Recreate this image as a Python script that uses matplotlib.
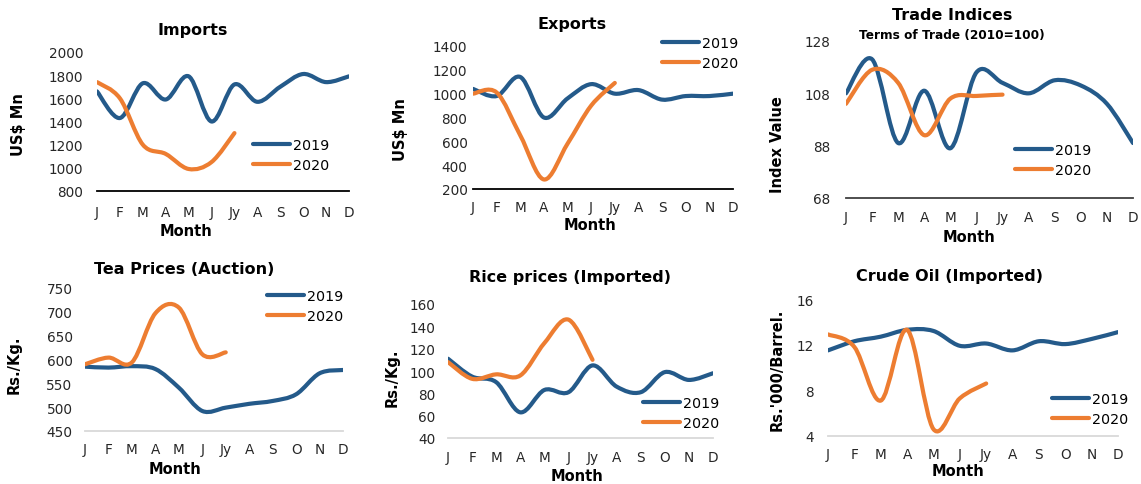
import matplotlib
matplotlib.use("Agg")
import matplotlib.pyplot as plt
from matplotlib.path import Path
from matplotlib.patches import PathPatch
from matplotlib.lines import Line2D

# datos
meses = ["J", "F", "M", "A", "M", "J", "Jy", "A", "S", "O", "N", "D"]
anios = ["2019", "2020"]

imports_2019 = [1660, 1430, 1730, 1590, 1790, 1400, 1720, 1570, 1700, 1810, 1740, 1790]
imports_2020 = [1740, 1600, 1200, 1120, 990, 1050, 1300]

exports_2019 = [1040, 980, 1140, 800, 960, 1080, 1000, 1030, 950, 980, 980, 1000]
exports_2020 = [1000, 1010, 650, 280, 580, 900, 1090]

tot_2019 = [108, 121, 89, 109, 87, 116, 112, 108, 113, 111, 104, 89]
tot_2020 = [104, 117, 112, 92, 106, 107, 107.5]

tea_2019 = [585, 583, 586, 580, 541, 492, 499, 507, 513, 527, 571, 578]
tea_2020 = [590, 604, 594, 697, 709, 611, 615]

rice_2019 = [111, 95, 90, 63, 83, 81, 105, 86, 81, 99, 92, 98]
rice_2020 = [108, 93, 97, 96, 125, 146, 110]

oil_2019 = [11.5, 12.3, 12.7, 13.3, 13.2, 11.9, 12.1, 11.5, 12.3, 12.05, 12.5, 13.1]
oil_2020 = [12.9, 11.8, 7.1, 13.3, 4.6, 7.3, 8.6]

azul = "#245A8A"
naranja = "#ED7D31"
W, H = 1141, 485

plt.rcParams['font.family'] = ['DejaVu Sans']


def curva_suave(ax, ys, color):
    # linea suavizada tipo Excel (bezier catmull-rom)
    xs = list(range(len(ys)))
    pts = list(zip(xs, ys))
    verts = [pts[0]]
    codes = [Path.MOVETO]
    n = len(pts)
    for i in range(n - 1):
        p0 = pts[i - 1] if i > 0 else pts[i]
        p1 = pts[i]
        p2 = pts[i + 1]
        p3 = pts[i + 2] if i + 2 < n else pts[i + 1]
        c1 = (p1[0] + (p2[0] - p0[0]) / 6, p1[1] + (p2[1] - p0[1]) / 6)
        c2 = (p2[0] - (p3[0] - p1[0]) / 6, p2[1] - (p3[1] - p1[1]) / 6)
        verts += [c1, c2, p2]
        codes += [Path.CURVE4] * 3
    patch = PathPatch(Path(verts, codes), fill=False, edgecolor=color, lw=3.0,
                      capstyle='round', joinstyle='round')
    ax.add_patch(patch)


def panel(caja, s19, s20, yticks, titulo, ylabel, textos, color_eje, xpad, ypad, ley):
    x0, x1, ytop, ybot = caja
    ax = fig.add_axes([x0 / W, 1 - ybot / H, (x1 - x0) / W, (ybot - ytop) / H])
    curva_suave(ax, s19, azul)
    curva_suave(ax, s20, naranja)
    ax.set_xlim(0, 11)
    ax.set_ylim(yticks[0], yticks[-1])
    ax.set_yticks(yticks)
    ax.set_xticks(range(12))
    ax.set_xticklabels(meses)
    ax.tick_params(length=0, labelsize=9.8, colors="#262626")
    ax.tick_params(axis='x', pad=xpad)
    ax.tick_params(axis='y', pad=ypad)
    for s in ['top', 'right', 'left']:
        ax.spines[s].set_visible(False)
    ax.spines['bottom'].set_color(color_eje)
    ax.spines['bottom'].set_linewidth(1.3)
    ax.patch.set_alpha(0)
    # titulo, etiquetas
    tx, ty = textos['titulo']
    fig.text(tx / W, 1 - ty / H, titulo, ha='center', va='center', fontsize=11.5, fontweight='bold')
    mx, my = textos['mes']
    fig.text(mx / W, 1 - my / H, "Month", ha='center', va='center', fontsize=10.5, fontweight='bold')
    lx, ly = textos['ylabel']
    fig.text(lx / W, 1 - ly / H, ylabel, ha='center', va='center', rotation=90, fontsize=10.5, fontweight='bold')
    hx, hy = ley
    handles = [Line2D([], [], color=azul, lw=3.0, solid_capstyle='round'),
               Line2D([], [], color=naranja, lw=3.0, solid_capstyle='round')]
    fig.legend(handles, anios, loc='upper left', bbox_to_anchor=(hx / W, 1 - hy / H),
               frameon=False, fontsize=10.3, handlelength=2.6, handletextpad=0.2,
               labelspacing=0.42, borderpad=0, borderaxespad=0)
    return ax


fig = plt.figure(figsize=(11.41, 4.85), dpi=100)

panel((97, 349, 53, 192), imports_2019, imports_2020, list(range(800, 2001, 200)),
      "Imports", "US$ Mn",
      {'titulo': (193, 30), 'mes': (186, 232), 'ylabel': (18, 125)},
      "#000000", 10, 10, (253, 139))

panel((473, 733, 47, 190), exports_2019, exports_2020, list(range(200, 1401, 200)),
      "Exports", "US$ Mn",
      {'titulo': (572, 24), 'mes': (590, 226), 'ylabel': (401, 130)},
      "#000000", 8, 4, (662, 37))

ax3 = panel((846, 1133, 42, 199), tot_2019, tot_2020, [68, 88, 108, 128],
            "Trade Indices", "Index Value",
            {'titulo': (952, 15), 'mes': (969, 237), 'ylabel': (777, 145)},
            "#404040", 9, 11, (1015, 144))
fig.text(952 / W, 1 - 35 / H, "Terms of Trade (2010=100)", ha='center', va='center',
         fontsize=8.7, fontweight='bold')

panel((85, 343, 289, 432), tea_2019, tea_2020, list(range(450, 751, 50)),
      "Tea Prices (Auction)", "Rs./Kg.",
      {'titulo': (184, 270), 'mes': (175, 470), 'ylabel': (14, 365)},
      "#D9D9D9", 8, 9, (267, 290))

panel((448, 713, 305, 439), rice_2019, rice_2020, list(range(40, 161, 20)),
      "Rice prices (Imported)", "Rs./Kg.",
      {'titulo': (570, 278), 'mes': (577, 477), 'ylabel': (392, 378)},
      "#D9D9D9", 8.5, 9, (643, 397))

panel((828, 1118, 300, 437), oil_2019, oil_2020, [4, 8, 12, 16],
      "Crude Oil (Imported)", "Rs.'000/Barrel.",
      {'titulo': (950, 277), 'mes': (958, 472), 'ylabel': (777, 370)},
      "#D9D9D9", 8, 10, (1052, 393))

fig.savefig("out.png", dpi=100)
